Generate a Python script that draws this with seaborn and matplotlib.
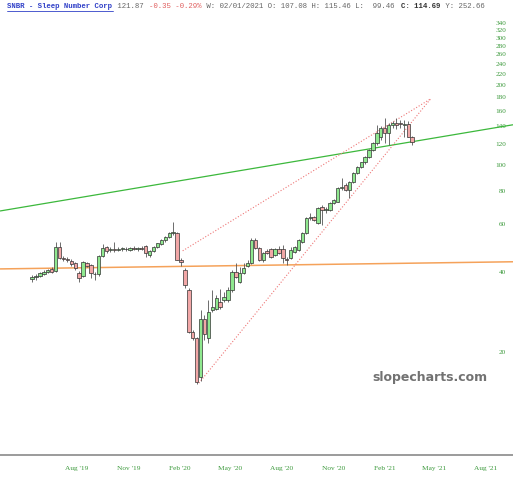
import pandas as pd
import numpy as np
import matplotlib
matplotlib.use("Agg")
import matplotlib.pyplot as plt
from matplotlib.lines import Line2D
import seaborn as sns

# ---------------------------------------------------------------------------
# Weekly OHLC values (SNBR, May 2019 - Mar 2021)
# ---------------------------------------------------------------------------
week_start = "2019-05-13"

opens = [37.5, 38.0, 38.6, 39.3, 40.0, 40.8, 40.2, 49.4, 44.8, 44.6,
         43.8, 43.1, 39.6, 38.5, 43.0, 42.3, 39.3, 39.0, 45.8, 49.4,
         48.0, 48.4, 48.2, 48.6, 48.6, 48.2, 49.0, 48.6, 48.9, 49.8,
         46.1, 47.8, 49.2, 50.8, 52.3, 53.8, 55.6, 55.6, 44.2, 40.6,
         34.1, 23.8, 22.6, 16.1, 26.6, 22.6, 28.7, 29.0, 30.8, 31.3,
         31.3, 34.1, 39.9, 36.6, 39.5, 42.0, 43.1, 52.5, 49.0, 44.2,
         47.8, 48.6, 46.1, 48.6, 48.6, 44.4, 45.0, 47.4, 48.2, 51.6,
         55.8, 63.5, 63.8, 60.8, 69.8, 68.0, 68.0, 72.2, 72.9, 82.2,
         84.4, 80.9, 86.6, 93.6, 98.6, 102.5, 107.0, 114.0, 121.0, 128.0,
         138.0, 132.0, 141.0, 144.0, 144.0, 141.0, 143.0, 128.0]
highs = [38.8, 39.0, 39.8, 40.4, 41.0, 41.6, 51.6, 51.8, 45.8, 45.4,
         44.6, 43.5, 40.2, 43.8, 43.5, 42.8, 40.0, 46.0, 50.5, 49.8,
         49.4, 51.5, 49.4, 49.6, 49.2, 49.6, 49.8, 49.4, 50.0, 50.2,
         48.2, 49.8, 51.2, 52.8, 54.4, 56.0, 61.4, 56.4, 44.8, 41.3,
         34.7, 24.2, 22.8, 28.7, 27.4, 31.3, 34.1, 32.6, 34.5, 33.4,
         35.0, 40.6, 43.1, 41.5, 43.0, 44.0, 53.4, 53.6, 49.4, 47.4,
         48.6, 49.0, 49.0, 49.8, 50.2, 45.4, 49.4, 50.0, 53.0, 56.2,
         64.0, 66.3, 64.5, 69.8, 71.0, 69.5, 73.0, 75.0, 83.0, 89.6,
         86.0, 87.5, 94.5, 99.5, 103.0, 108.0, 115.0, 122.0, 141.6, 140.0,
         150.0, 144.0, 146.0, 150.0, 147.0, 148.0, 146.0, 129.0]
lows = [36.6, 37.2, 38.0, 38.8, 39.4, 39.6, 39.8, 44.6, 43.8, 43.6,
        42.1, 40.6, 36.6, 38.0, 41.5, 37.9, 37.2, 38.6, 45.4, 47.0,
        47.4, 47.4, 47.6, 47.8, 47.6, 47.8, 48.0, 47.8, 48.2, 45.4,
        45.4, 47.4, 48.8, 50.4, 51.8, 53.2, 55.0, 44.0, 42.1, 34.8,
        23.6, 22.2, 15.2, 15.6, 22.2, 21.6, 28.2, 28.6, 29.0, 30.8,
        30.8, 33.6, 37.9, 36.2, 39.0, 41.5, 42.8, 48.5, 43.8, 43.6,
        46.5, 45.0, 45.8, 46.5, 43.1, 42.3, 44.6, 47.0, 47.8, 51.0,
        55.4, 62.4, 61.8, 60.2, 59.8, 66.5, 67.5, 71.5, 72.5, 81.0,
        80.0, 75.5, 86.0, 93.0, 97.5, 101.0, 106.0, 113.0, 119.0, 124.0,
        121.0, 119.0, 138.0, 137.0, 138.0, 128.0, 127.0, 119.0]
closes = [38.2, 38.6, 39.4, 40.0, 40.6, 40.0, 49.4, 45.0, 44.6, 44.0,
          42.5, 41.3, 37.9, 43.3, 42.0, 39.5, 39.0, 45.8, 49.0, 47.8,
          48.4, 48.0, 48.6, 48.8, 48.4, 49.0, 48.6, 48.9, 48.7, 46.9,
          47.8, 49.4, 51.0, 52.5, 54.0, 55.6, 56.2, 44.2, 43.3, 35.6,
          23.8, 22.6, 15.4, 26.6, 23.4, 28.2, 29.5, 31.9, 29.5, 32.1,
          34.1, 39.9, 38.3, 39.5, 41.3, 42.9, 52.5, 49.0, 44.2, 46.9,
          46.9, 45.4, 48.6, 46.9, 45.0, 44.0, 48.2, 49.4, 52.5, 55.8,
          63.5, 63.8, 62.6, 69.2, 68.0, 68.4, 72.2, 74.2, 82.2, 83.0,
          80.9, 86.6, 93.6, 98.6, 102.5, 107.4, 114.0, 121.0, 132.0, 138.0,
          132.0, 141.6, 144.0, 141.0, 142.0, 142.0, 128.0, 121.87]

# Drawn trend lines (start / end)
green_dates = ["2019-03-17", "2021-09-18"]
green_prices = [67.4, 141.6]
orange_dates = ["2019-03-17", "2021-09-18"]
orange_prices = [40.9, 43.5]
red_top_dates = ["2020-02-06", "2021-04-24"]
red_top_prices = [47.8, 177.0]
red_low_dates = ["2020-03-06", "2021-04-24"]
red_low_prices = [15.3, 177.0]

y_ticks = [20, 40, 60, 80, 100, 120, 140, 160, 180, 200,
           220, 240, 260, 280, 300, 320, 340]
x_tick_dates = ["2019-08-01", "2019-11-01", "2020-02-01", "2020-05-01",
                "2020-08-01", "2020-11-01", "2021-02-01", "2021-05-01",
                "2021-08-01"]
x_tick_labels = ["Aug '19", "Nov '19", "Feb '20", "May '20", "Aug '20",
                 "Nov '20", "Feb '21", "May '21", "Aug '21"]

# ---------------------------------------------------------------------------
# Build frame
# ---------------------------------------------------------------------------
df = pd.DataFrame({"Open": opens, "High": highs, "Low": lows, "Close": closes})
df["Date"] = pd.date_range(week_start, periods=len(df), freq="7D")
df["Up"] = df["Close"] >= df["Open"]

sns.set_style("white")

fig = plt.figure(figsize=(5.13, 4.8), dpi=100)
ax = fig.add_axes([0, 25 / 480, 1, 455 / 480])

# --- Trend lines ---
for d, p, c, ls, lw in [
    (green_dates, green_prices, "#3cb83c", "-", 0.9),
    (orange_dates, orange_prices, "#f5a25a", "-", 1.1),
    (red_top_dates, red_top_prices, "#ee7777", ":", 0.8),
    (red_low_dates, red_low_prices, "#ee7777", ":", 0.8),
]:
    line_df = pd.DataFrame({"Date": pd.to_datetime(d), "Price": p})
    sns.lineplot(data=line_df, x="Date", y="Price", ax=ax, color=c,
                 linestyle=ls, linewidth=lw, zorder=1)

# --- Candles ---
ax.vlines(df["Date"], df["Low"], df["High"], color="#555555",
          linewidth=0.6, zorder=2)
body_lo = df[["Open", "Close"]].min(axis=1)
body_hi = df[["Open", "Close"]].max(axis=1)
height = np.maximum(body_hi - body_lo, body_lo * 0.004)
face = np.where(df["Up"], "#8fe88f", "#f2a7a7")
ax.bar(df["Date"], height, bottom=body_lo, width=6.0, color=face,
       edgecolor="#333333", linewidth=0.5, zorder=3)

# --- Axes styling ---
ax.set_yscale("log")
ax.set_ylim(8.23, 415)
ax.set_xlim(pd.Timestamp("2019-03-16 14:00"), pd.Timestamp("2021-09-18 07:00"))
ax.set_xlabel("")
ax.set_ylabel("")

ax.yaxis.tick_right()
ax.yaxis.set_minor_locator(matplotlib.ticker.NullLocator())
ax.set_yticks(y_ticks)
ax.set_yticklabels([str(v) for v in y_ticks])
ax.tick_params(axis="y", length=0, pad=-5, labelsize=5.2,
               labelcolor="#3d9a3d", right=False)
for lab in ax.get_yticklabels():
    lab.set_horizontalalignment("right")
    lab.set_family("Liberation Serif")

ax.set_xticks(pd.to_datetime(x_tick_dates))
ax.set_xticklabels(x_tick_labels)
ax.tick_params(axis="x", length=0, pad=8, labelsize=5.3,
               labelcolor="#3d9a3d")
for lab in ax.get_xticklabels():
    lab.set_family("Liberation Serif")

for side in ["top", "left", "right"]:
    ax.spines[side].set_visible(False)
ax.spines["bottom"].set_color("#8a8a8a")
ax.spines["bottom"].set_linewidth(1.2)
ax.grid(False)

# --- Watermark ---
ax.text(0.951, 0.171, "slopecharts.com", transform=ax.transAxes,
        ha="right", va="center", fontsize=9.0, fontweight="bold",
        color="#727272", family="DejaVu Sans")

# --- Header line ---
char_w = 4.43 / 513
x0 = 7 / 513
y0 = 1 - 7 / 480
segments = [
    ("SNBR - Sleep Number Corp", "#3040c8", "bold"),
    (" 121.87 ", "#666666", "normal"),
    ("-0.35 -0.29%", "#e06060", "normal"),
    (" W: 02/01/2021 O: 107.08 H: 115.46 L:  99.46 ", "#666666", "normal"),
    ("C: 114.69", "#333333", "bold"),
    (" Y: 252.66", "#666666", "normal"),
]
pos = 0
for txt, col, wt in segments:
    fig.text(x0 + pos * char_w, y0, txt, ha="left", va="center",
             family="Liberation Mono", fontsize=5.3, color=col, fontweight=wt)
    pos += len(txt)
fig.add_artist(Line2D([x0, x0 + 24 * char_w], [y0 - 4 / 480, y0 - 4 / 480],
                      color="#3040c8", linewidth=0.6))

fig.savefig("out.png", dpi=100)
